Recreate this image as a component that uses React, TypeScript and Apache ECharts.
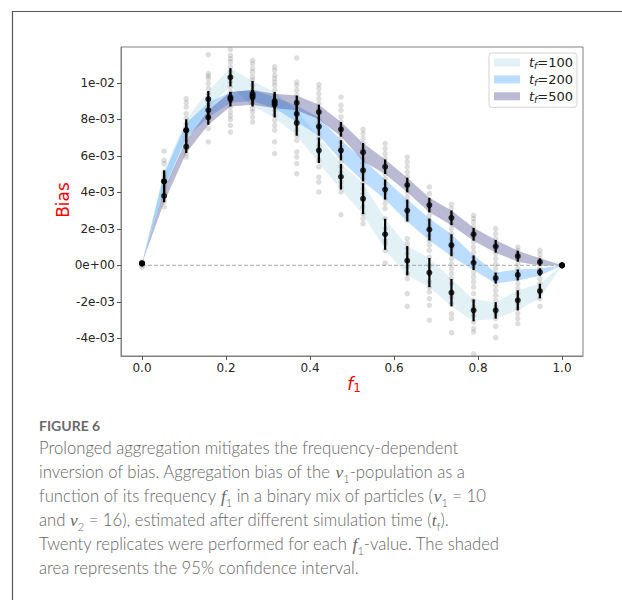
import React, { useEffect, useRef } from "react";
import * as echarts from "echarts";

// ---- data (bias values in units of 1e-3) ----
const SCALE = 1e-3;
const f1Values = [
  0, 0.0526, 0.1053, 0.1579, 0.2105, 0.2632, 0.3158, 0.3684, 0.4211, 0.4737,
  0.5263, 0.5789, 0.6316, 0.6842, 0.7368, 0.7895, 0.8421, 0.8947, 0.9474, 1,
];
const seriesNames = ["t_f=100", "t_f=200", "t_f=500"];
const mean100 = [0.1, 4.6, 7.4, 9.1, 10.3, 9.4, 8.8, 7.8, 6.3, 4.85, 3.65, 1.7, 0.25, -0.4, -1.5, -2.47, -2.47, -1.92, -1.41, 0.0];
const mean200 = [0.1, 4.6, 7.4, 8.5, 9.2, 9.3, 8.9, 8.3, 7.6, 6.3, 5.2, 4.15, 3.0, 1.96, 1.1, 0.14, -0.7, -0.53, -0.37, 0.0];
const mean500 = [0.1, 3.8, 6.5, 8.1, 9.1, 9.2, 9.0, 8.9, 8.4, 7.45, 6.2, 5.4, 4.4, 3.3, 2.6, 1.7, 1.04, 0.5, 0.18, 0.0];
const ci100 = [0, 0.6, 0.6, 0.45, 0.5, 0.7, 0.7, 0.7, 0.7, 0.7, 0.85, 0.85, 0.8, 0.8, 0.75, 0.6, 0.45, 0.55, 0.4, 0];
const ci200 = [0, 0.4, 0.4, 0.4, 0.3, 0.3, 0.3, 0.45, 0.5, 0.55, 0.6, 0.55, 0.6, 0.6, 0.6, 0.4, 0.3, 0.3, 0.2, 0];
const ci500 = [0, 0.35, 0.35, 0.4, 0.4, 0.4, 0.4, 0.4, 0.4, 0.4, 0.5, 0.4, 0.4, 0.4, 0.4, 0.35, 0.35, 0.3, 0.2, 0];

// replicate values (grey dots), one list per f1 column
const replicates = [
  [0.2, 0.1, 0.0, -0.1],
  [6.25, 5.75, 5.57, 5.11, 4.93, 4.75, 4.48, 4.29, 4.11, 3.93, 3.65, 3.47, 3.2],
  [9.13, 8.91, 8.67, 8.31, 8.04, 7.76, 7.49, 7.27, 7.03, 6.85, 6.67, 6.4, 6.12, 5.93],
  [11.54, 10.5, 10.37, 10.23, 9.96, 9.68, 9.41, 9.13, 8.95, 8.77, 8.49, 8.31, 8.13, 7.85, 7.49, 6.76],
  [11.83, 11.5, 11.32, 11.14, 10.87, 10.59, 10.32, 10.04, 9.77, 9.5, 9.22, 8.95, 8.67, 8.4, 8.18, 8.0, 7.67, 7.3],
  [11.23, 11.05, 10.78, 10.59, 10.32, 10.14, 9.86, 9.59, 9.13, 8.86, 8.58, 8.4, 8.13, 7.85],
  [10.87, 10.68, 10.41, 10.23, 10.04, 9.86, 9.59, 9.31, 9.04, 8.77, 8.49, 8.22, 7.94, 7.67, 7.4, 6.76, 6.12],
  [11.36, 10.04, 9.86, 9.59, 9.31, 9.04, 8.77, 8.49, 8.22, 7.94, 7.67, 7.4, 7.12, 6.85, 6.21, 5.93, 5.57, 5.02],
  [9.9, 9.68, 9.41, 9.13, 8.86, 8.58, 8.31, 8.04, 7.76, 7.49, 7.22, 6.94, 6.57, 6.21, 5.75, 5.39, 4.84, 4.56, 4.02],
  [9.22, 8.77, 8.49, 8.13, 7.85, 7.58, 7.3, 7.03, 6.76, 6.48, 6.21, 5.93, 5.66, 5.39, 5.11, 4.56, 4.29, 4.02, 2.78],
  [7.44, 7.22, 6.94, 6.67, 6.39, 6.12, 5.85, 5.57, 5.3, 5.02, 4.75, 4.48, 4.2, 3.93, 3.56, 3.2, 2.83, 2.56, 2.28],
  [6.67, 6.39, 6.12, 5.85, 5.57, 5.3, 5.02, 4.75, 4.48, 4.2, 3.93, 3.65, 3.38, 3.11, 2.56, 2.01, 1.74, 1.37, 1.19, 0.82, 0.13],
  [5.93, 5.66, 5.39, 5.11, 4.84, 4.56, 4.29, 4.02, 3.74, 3.47, 3.2, 2.74, 2.47, 1.46, 1.19, 0.92, 0.64, 0.37, -0.09, -0.46, -0.73, -1.55, -2.25],
  [4.29, 3.93, 3.56, 3.29, 3.01, 2.74, 2.47, 2.19, 1.92, 1.64, 1.37, 1.1, 0.82, 0.45, 0.0, -0.46, -0.91, -1.19, -1.46, -1.83, -2.19, -3.01],
  [3.34, 3.11, 2.83, 2.56, 2.28, 2.01, 1.74, 1.46, 1.19, 0.92, 0.64, 0.37, 0.09, -0.18, -0.46, -0.73, -1.0, -1.74, -2.1, -2.65, -2.92, -3.69],
  [2.74, 2.56, 2.37, 2.1, 1.83, 1.55, 1.28, 1.0, 0.73, 0.45, 0.18, -0.09, -0.37, -0.64, -0.91, -1.19, -1.55, -1.92, -2.28, -2.74, -3.11, -3.47, -3.65, -4.85],
  [2.01, 1.74, 1.46, 1.19, 0.92, 0.64, 0.37, 0.09, -0.18, -0.46, -0.82, -1.1, -1.37, -1.64, -1.92, -2.28, -2.65, -2.92, -3.34, -3.96],
  [1.0, 0.82, 0.64, 0.37, 0.09, -0.18, -0.46, -0.73, -1.0, -1.28, -1.55, -1.83, -2.1, -2.37, -2.65, -2.92, -3.19],
  [0.82, 0.6, 0.37, 0.09, -0.18, -0.46, -0.73, -1.0, -1.28, -1.55, -1.83, -2.25],
  [0.0],
];

const xTicks = [0, 0.2, 0.4, 0.6, 0.8, 1.0];
const yTicks = [-0.004, -0.002, 0, 0.002, 0.004, 0.006, 0.008, 0.01];

const captionTitle = "FIGURE 6";
const captionLines = [
  "{n|Prolonged aggregation mitigates the frequency-dependent}",
  "{n|inversion of bias. Aggregation bias of the }{i|v}{s|1}{n|-population as a}",
  "{n|function of its frequency }{i|f}{s|1}{n| in a binary mix of particles (}{i|v}{s|1}{n| = 10}",
  "{n|and }{i|v}{s|2}{n| = 16), estimated after different simulation time (}{i|t}{s|f}{n|).}",
  "{n|Twenty replicates were performed for each }{i|f}{s|1}{n|-value. The shaded}",
  "{n|area represents the 95% confidence interval.}",
];

const bandColors = ["rgba(173,216,230,0.35)", "rgba(30,144,255,0.3)", "rgba(25,25,112,0.3)"];

function sci(v: number): string {
  if (Math.abs(v) < 1e-12) return "0e+00";
  const [m, e] = v.toExponential(0).split("e");
  const sign = e[0] === "-" ? "-" : "+";
  const d = e.replace(/^[+-]/, "").padStart(2, "0");
  return `${m}e${sign}${d}`;
}

function bandSeries(name: string, mean: number[], ci: number[], color: string) {
  return {
    type: "custom",
    name,
    z: 1,
    silent: true,
    itemStyle: { color },
    data: [[0, 0]],
    encode: { x: 0, y: 1 },
    renderItem: (_p: any, api: any) => {
      const upper = f1Values.map((x, i) => api.coord([x, (mean[i] + ci[i]) * SCALE]));
      const lower = f1Values.map((x, i) => api.coord([x, (mean[i] - ci[i]) * SCALE])).reverse();
      return { type: "polygon", shape: { points: upper.concat(lower) }, style: { fill: color } };
    },
  };
}

export default function App() {
  const ref = useRef<HTMLDivElement>(null);
  useEffect(() => {
    if (!ref.current) return;
    const chart = echarts.init(ref.current, undefined, { renderer: "svg" });
    const means = [mean100, mean200, mean500];
    const cis = [ci100, ci200, ci500];

    const dots: number[][] = [];
    replicates.forEach((col, i) => col.forEach((v) => dots.push([f1Values[i], v * SCALE])));
    const errData: number[][] = [];
    const meanData: number[][] = [];
    means.forEach((m, s) =>
      m.forEach((v, i) => {
        errData.push([f1Values[i], v * SCALE, cis[s][i] * SCALE]);
        meanData.push([f1Values[i], v * SCALE]);
      })
    );

    const tickFont = { fontFamily: "DejaVu Sans", fontSize: 12, color: "#262626" };
    const capColor = "#666666";
    const axisLine = { show: true, onZero: false, lineStyle: { color: "#808080", width: 1 } };

    chart.setOption({
      animation: false,
      backgroundColor: "#ffffff",
      grid: {
        left: 121,
        top: 47,
        width: 462,
        height: 309,
        show: true,
        borderColor: "#808080",
        borderWidth: 1,
        backgroundColor: "transparent",
      },
      xAxis: {
        type: "value",
        min: -0.05,
        max: 1.05,
        splitLine: { show: false },
        axisLine,
        axisTick: { show: true, length: 4, lineStyle: { color: "#555" }, customValues: xTicks },
        axisLabel: { ...tickFont, margin: 6, customValues: xTicks, formatter: (v: number) => v.toFixed(1) },
      },
      yAxis: {
        type: "value",
        min: -0.00497,
        max: 0.01196,
        splitLine: { show: false },
        axisLine,
        axisTick: { show: true, length: 4, lineStyle: { color: "#555" }, customValues: yTicks },
        axisLabel: { ...tickFont, margin: 6, customValues: yTicks, formatter: (v: number) => sci(v) },
      },
      legend: {
        orient: "vertical",
        left: 489,
        top: 53,
        backgroundColor: "#ffffff",
        borderColor: "#d4d4d4",
        borderWidth: 1,
        borderRadius: 3,
        padding: [3, 4, 3, 5],
        itemWidth: 26,
        itemHeight: 8,
        itemGap: 2.4,
        selectedMode: false,
        icon: "rect",
        data: seriesNames.map((n, i) => ({ name: n, itemStyle: { color: bandColors[i] } })),
        formatter: (name: string) => {
          const [a, b] = name.split("=");
          return `{i|${a.split("_")[0]}}{s|${a.split("_")[1]}}{n|=${b}}`;
        },
        textStyle: {
          color: "#222",
          rich: {
            i: { fontFamily: "DejaVu Sans", fontStyle: "italic", fontSize: 13, lineHeight: 16, color: "#222", padding: [0, 0, 0, 4] },
            s: { fontFamily: "DejaVu Sans", fontStyle: "italic", fontSize: 9, lineHeight: 11, verticalAlign: "bottom", color: "#222" },
            n: { fontFamily: "DejaVu Sans", fontSize: 13, lineHeight: 16, color: "#222" },
          },
        },
      },
      series: [
        bandSeries(seriesNames[0], mean100, ci100, bandColors[0]),
        bandSeries(seriesNames[1], mean200, ci200, bandColors[1]),
        bandSeries(seriesNames[2], mean500, ci500, bandColors[2]),
        {
          type: "line",
          z: 2,
          silent: true,
          symbol: "none",
          data: [[0, 0], [1, 0]],
          lineStyle: { type: [4, 2], color: "#a8a8a8", width: 1 },
        },
        {
          type: "scatter",
          z: 3,
          silent: true,
          symbol: "circle",
          symbolSize: 5.5,
          itemStyle: { color: "rgba(128,128,128,0.33)" },
          data: dots,
        },
        {
          type: "custom",
          z: 4,
          silent: true,
          data: errData,
          encode: { x: 0, y: 1 },
          renderItem: (_p: any, api: any) => {
            const x = api.value(0);
            const m = api.value(1);
            const c = api.value(2);
            const a = api.coord([x, m - c]);
            const b = api.coord([x, m + c]);
            return {
              type: "line",
              shape: { x1: a[0], y1: a[1], x2: b[0], y2: b[1] },
              style: { stroke: "#000", lineWidth: 2.2 },
            };
          },
        },
        {
          type: "scatter",
          z: 5,
          silent: true,
          symbol: "circle",
          symbolSize: 6,
          itemStyle: { color: "#000" },
          data: meanData,
        },
      ],
      graphic: [
        { type: "line", shape: { x1: 12, y1: 11.5, x2: 622, y2: 11.5 }, style: { stroke: "#555", lineWidth: 1.2 } },
        { type: "line", shape: { x1: 12.5, y1: 11, x2: 12.5, y2: 600 }, style: { stroke: "#555", lineWidth: 1.2 } },
        {
          type: "text",
          x: 63,
          y: 200,
          rotation: Math.PI / 2,
          style: { text: "Bias", fill: "#ff0000", fontFamily: "DejaVu Sans", fontSize: 17, align: "center", verticalAlign: "middle" },
        },
        {
          type: "text",
          x: 354,
          y: 384,
          style: {
            text: "{i|f}{s|1}",
            align: "center",
            verticalAlign: "middle",
            rich: {
              i: { fontFamily: "DejaVu Sans", fontStyle: "italic", fontSize: 17, lineHeight: 20, fill: "#ff0000", color: "#ff0000" },
              s: { fontFamily: "DejaVu Sans", fontSize: 12, lineHeight: 12, verticalAlign: "bottom", fill: "#ff0000", color: "#ff0000" },
            },
          },
        },
        {
          type: "text",
          x: 39,
          y: 425,
          style: { text: captionTitle, fill: "#6a6a6a", fontFamily: "Lato", fontWeight: "bold", fontSize: 14, verticalAlign: "middle" },
        },
        {
          type: "text",
          x: 39,
          y: 436,
          style: {
            text: captionLines.join("\n"),
            fill: capColor,
            fontFamily: "Lato",
            fontSize: 16.7,
            fontWeight: 300,
            lineHeight: 24,
            verticalAlign: "top",
            rich: {
              n: { fontFamily: "Lato", fontSize: 16.7, fontWeight: 300, lineHeight: 24, fill: capColor, color: capColor },
              i: { fontFamily: "Liberation Serif", fontStyle: "italic", fontSize: 17.5, lineHeight: 24, fill: capColor, color: capColor },
              s: { fontFamily: "Lato", fontSize: 11, fontWeight: 300, lineHeight: 13, verticalAlign: "bottom", fill: capColor, color: capColor },
            },
          },
        },
      ],
    });
    return () => chart.dispose();
  }, []);
  return <div ref={ref} style={{ position: "absolute", left: 0, top: 0, width: 622, height: 600 }} />;
}
